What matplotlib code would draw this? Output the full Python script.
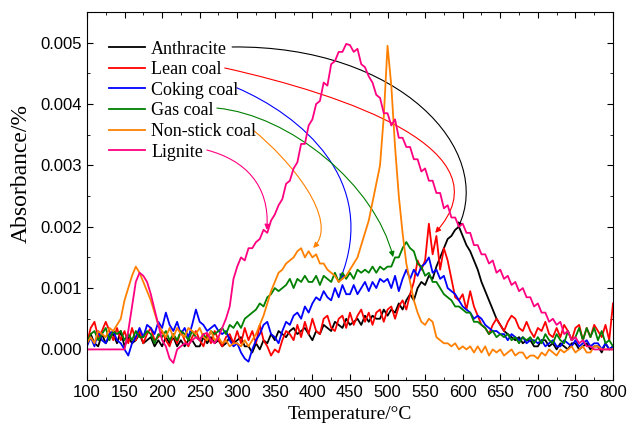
import numpy as np
import matplotlib
matplotlib.use("Agg")
import matplotlib.pyplot as plt
from matplotlib.patches import FancyArrowPatch
from matplotlib.path import Path
from matplotlib.ticker import MultipleLocator, FormatStrFormatter

# temperature grid (5 degC steps) and absorbance values in units of 1e-4 %
temps = np.arange(100, 805, 5)

anthracite = [
    1, 2.5, 1, 0.5, 2.5, 1, 2, 2.5, 1, 3,
    0.5, 2, 1, 1.5, 2.5, 1, 1.5, 2, 0.5, 1.5,
    0.5, 2, 1, 2, 0.5, 1.5, 0.5, 1.5, 1.5, 0.5,
    0.5, 2, 1, 2, 1, 1.5, 0.5, 1, 2, 1,
    1.5, 2, 0.5, 0.5, -0.5, 1, 0, 1.5, 1, 2.5,
    1.5, 3, 2.5, 2, 3, 3.5, 2.5, 3, 3.5, 2.5,
    1.5, 3, 2.5, 4, 3.5, 3, 4.5, 4, 3.5, 5,
    4, 4.5, 5, 4, 5.5, 4.5, 5.5, 5, 5, 6.5,
    5.5, 6.5, 6, 7.5, 6.5, 8, 9, 8, 10, 11,
    10.5, 12, 11.5, 13.5, 15, 16.5, 18, 18.5, 19.5, 20,
    18.5, 17, 16, 14.5, 13, 11, 9.5, 8, 6.5, 5,
    4, 3, 2.5, 2, 1.5, 2, 1, 1.5, 1.5, 0.5,
    0.5, 1.5, 1.5, 0.5, 1, 0, 1, 0.5, 0, 1,
    1, 0, 0.5, 1, 0, 0.5, 0.5, -0.5, 1, 0,
    0.5]

lean = [
    1, 3.5, 4.5, 2, 3, 4.5, 3, 1.5, 3.5, 1.5,
    3, 1, 3.5, 1.5, 3, 1, 2.5, 3.5, 1.5, 2,
    3, 1.5, 0.5, 2.5, 1, 3, 1.5, 0.5, 2, 3,
    1.5, 0.5, 2.5, 1, 3, 1.5, 0.5, 2, 2.5, 1,
    3, 1, 3.5, 1.5, 3, 1, 4, 1.5, 0.5, -1,
    0, -0.5, 1.5, 3, 2.5, 1.5, 4, 2, 4.5, 2.5,
    5, 3, 2.5, 5, 5.5, 3.5, 3, 5, 5.5, 3.5,
    6, 4, 5.5, 6.5, 4.5, 6, 4, 6, 6.5, 4.5,
    6.5, 7, 5, 7, 8, 6.5, 9, 11, 14.5, 13,
    14.5, 20.5, 15.5, 18.5, 13, 16.5, 14.5, 11.5, 8.5, 8,
    9, 6.5, 9.5, 7, 5.5, 4, 3.5, 2.5, 4, 5,
    4, 3, 4.5, 5.5, 5, 3.5, 3, 4.5, 3, 2,
    3.5, 3, 4.5, 2.5, 2, 3.5, 2, 4, 3, 1.5,
    3.5, 4, 1.5, 3.5, 2, 4, 3, 2, 4, 1.5,
    7.5]

coking = [
    0.5, 2, 0.5, 3, 1.5, 1, 2.5, 3, 1.5, 1,
    0, -1, 1, 2, 3.5, 2, 4, 3.5, 2.5, 4.5,
    3.5, 6, 4, 3, 4.5, 2.5, 3.5, 2, 4, 6.5,
    4.5, 4, 3, 3.5, 4, 3, 2.5, 3, 1.5, 0.5,
    1, -0.5, -1.5, -2, 0, 1.5, 2.5, 4, 4.5, 2.5,
    2, 1, 3, 4.5, 4, 5.5, 6, 5, 7, 6,
    7.5, 8.5, 8, 9.5, 8.5, 8, 10, 8.5, 10.5, 9,
    9, 10.5, 9, 10, 11, 9.5, 11, 10, 11.5, 11,
    11.5, 10, 12, 9.5, 11.5, 13, 11.5, 13, 12, 13.5,
    14, 15, 12.5, 13, 11.5, 12, 10, 9.5, 9, 8,
    7, 6.5, 6, 5, 5.5, 5, 4, 3.5, 3, 3,
    2.5, 2.5, 1.5, 2.5, 2, 1.5, 2, 1, 1.5, 1.5,
    1, 1.5, 0.5, 1, 1.5, 0.5, 0.5, 1.5, 1, 0.5,
    1.5, 0.5, 1, 1.5, 0.5, 1, 1, 0, 1, 0,
    0.5]

gas = [
    1, 2.5, 3, 1.5, 2.5, 3.5, 1.5, 3, 2.5, 3,
    1.5, 2.5, 1.5, 3, 2, 2, 3, 2.5, 1, 2.5,
    2, 3, 1.5, 2.5, 1.5, 3, 2.5, 1.5, 3, 2,
    1.5, 2.5, 1.5, 3, 2.5, 3, 3.5, 2.5, 4, 3.5,
    4.5, 3.5, 5, 5.5, 6, 6.5, 7.5, 7, 8.5, 9,
    10, 9.5, 10, 10.5, 11.5, 10, 11.5, 11, 12, 11,
    11, 12, 10.5, 12, 11.5, 11, 12.5, 11, 12.5, 11.5,
    12.5, 11.5, 13, 12.5, 13, 12.5, 13.5, 12.5, 13.5, 13,
    13.5, 13.5, 15, 15, 16.5, 17.5, 16.5, 16, 14, 13.5,
    12, 12.5, 11, 11, 10, 9, 8.5, 8, 7, 7,
    6.5, 6, 6, 4.5, 4.5, 4, 3.5, 2.5, 3, 2,
    2.5, 2, 2.5, 1.5, 2, 1, 2, 1.5, 2, 1,
    2, 1, 2.5, 1.5, 1, 2.5, 1.5, 1, 3, 1.5,
    2, 3.5, 1.5, 3.5, 2, 3.5, 1.5, 3, 1, 1.5,
    0.5]

nonstick = [
    1, 2, 1, 3, 2.5, 2, 3.5, 3, 4, 5,
    8, 10, 12, 13.5, 12.5, 11, 9.5, 8, 6, 4,
    3, 2, 3.5, 2, 3.5, 2.5, 2, 3.5, 3, 2.5,
    3.5, 2, 1.5, 3, 1.5, 2, 1, 1.5, 0.5, 1,
    1, 0.5, 1.5, 0.5, 1.5, 2.5, 4, 5.5, 7.5, 9.5,
    11, 12.5, 13, 14, 14.5, 15, 16, 16.5, 15, 16,
    15, 15.5, 14, 14, 13, 12.5, 12, 11, 11.5, 12,
    13, 14, 15, 17, 19, 21, 24, 27, 30, 38,
    49.5, 43, 33, 25, 19, 14, 11, 8, 6, 4.5,
    4, 5, 4.5, 2, 1.5, 1, 1, 0.5, 1, 0,
    0.5, 0, 0.5, -0.5, 0.5, -0.5, 0.5, -1, 0, -0.5,
    0, -1, -0.5, 0, -1, -0.5, -0.5, -1.5, -1, -1,
    -1.5, -0.5, -1, 0, -0.5, -1, 0, -0.5, 0, 0.5,
    -0.5, 0, 0.5, -0.5, -0.5, 0.5, 0.5, 0, 0, 0,
    0]

lignite = [
    0, 0, 0, 0, 0, 0, 0, 0, 0, 0,
    0, 3, 7, 11, 12.5, 12, 11, 9, 6.5, 4,
    1.5, 0.5, -1.5, -2.2, 0, 0.5, 1, 0.8, 1.5, 2,
    1.5, 2.5, 2.7, 1.5, 1, 2, 3.5, 5, 7, 11.5,
    13.5, 15, 14.5, 16.5, 16.5, 17.5, 18, 19.5, 19, 21,
    22, 23.5, 24.5, 27, 27.5, 29.5, 30.5, 33.5, 33.5, 36.5,
    37.5, 40, 40.5, 43.5, 43, 46.5, 47, 48.5, 48.5, 49.8,
    49.6, 48.5, 49, 46.5, 46, 44.5, 43.5, 41.5, 41, 38.5,
    38.5, 36.5, 37.5, 34.5, 34.5, 33, 33, 31, 31, 29,
    29.5, 27.5, 27.5, 25.5, 25.5, 23, 23.5, 21.5, 21.5, 20,
    20.5, 19, 19, 17, 17, 15.5, 15.5, 14, 14.5, 12.5,
    13, 11.5, 12, 10.5, 11, 9.5, 10, 8.5, 8.5, 7,
    7.5, 6, 6, 4.5, 5, 4, 4.5, 2.5, 3, 1.5,
    2, 1, 1.5, 0.5, 0.5, 0, 0, 0, 0, 0,
    0]

names = ["Anthracite", "Lean coal", "Coking coal", "Gas coal", "Non-stick coal", "Lignite"]
series = [anthracite, lean, coking, gas, nonstick, lignite]
colors = ["#000000", "#FF0000", "#0000FF", "#008000", "#FF8000", "#FF0080"]

# arrow paths from the legend labels to each curve (axes fraction, cubic bezier)
arrow_paths = [
    [(0.276, 0.905), (0.595, 0.910), (0.776, 0.625), (0.705, 0.413)],
    [(0.262, 0.848), (0.490, 0.775), (0.804, 0.625), (0.662, 0.400)],
    [(0.285, 0.794), (0.405, 0.720), (0.557, 0.544), (0.481, 0.272)],
    [(0.247, 0.739), (0.386, 0.720), (0.548, 0.530), (0.582, 0.334)],
    [(0.316, 0.679), (0.386, 0.598), (0.481, 0.435), (0.430, 0.359)],
    [(0.228, 0.625), (0.300, 0.598), (0.348, 0.530), (0.342, 0.408)],
]

fig = plt.figure(figsize=(6.3, 4.29), dpi=100)
ax = fig.add_axes([0.138, 0.114, 0.835, 0.858])

for name, vals, c in zip(names, series, colors):
    ax.plot(temps, np.array(vals) * 1e-4, color=c, lw=1.3, label=name)

for verts, c in zip(arrow_paths, colors):
    p = Path(verts, [Path.MOVETO, Path.CURVE4, Path.CURVE4, Path.CURVE4])
    arr = FancyArrowPatch(path=p, arrowstyle='-|>', mutation_scale=8,
                          lw=0.8, color=c, transform=ax.transAxes)
    ax.add_patch(arr)

ax.set_xlim(100, 800)
ax.set_ylim(-0.0005, 0.0055)
ax.xaxis.set_major_locator(MultipleLocator(50))
ax.xaxis.set_minor_locator(MultipleLocator(25))
ax.yaxis.set_major_locator(MultipleLocator(0.001))
ax.yaxis.set_minor_locator(MultipleLocator(0.0005))
ax.yaxis.set_major_formatter(FormatStrFormatter('%.3f'))
ax.tick_params(which='both', direction='in', top=True, right=True)
ax.tick_params(which='major', length=4, labelsize=12)
ax.tick_params(which='minor', length=2.5)
for lab in ax.get_xticklabels() + ax.get_yticklabels():
    lab.set_family('Liberation Sans')

ax.set_xlabel('Temperature/°C', family='Liberation Serif', fontsize=14)
ax.set_ylabel('Absorbance/%', family='Liberation Serif', fontsize=17)
ax.yaxis.set_label_coords(-0.104, 0.56)

ax.legend(loc='upper left', bbox_to_anchor=(0.028, 0.942), frameon=False,
          prop={'family': 'Liberation Serif', 'size': 13},
          handlelength=2.0, handletextpad=0.35, labelspacing=0.2,
          borderaxespad=0.0)

fig.savefig('out.png', dpi=100)
